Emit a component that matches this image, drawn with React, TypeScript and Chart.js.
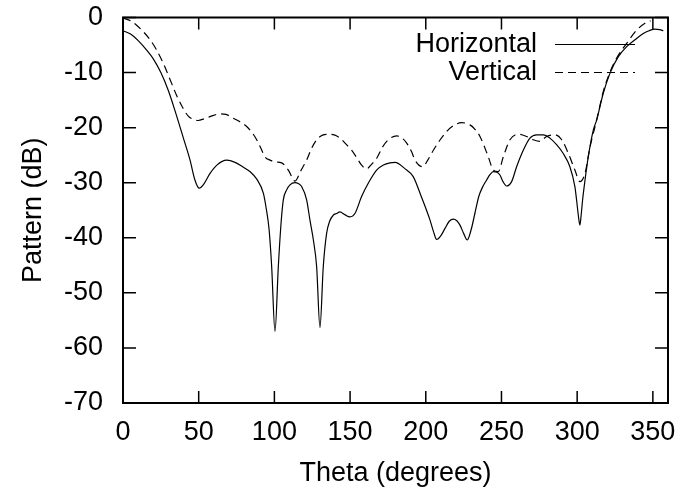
import React, { useEffect, useRef } from "react";
import { Chart, registerables } from "chart.js";

Chart.register(...registerables);

const FONT = '"Liberation Sans", Arial, Helvetica, sans-serif';
const FONT_SIZE = 27;

const seriesNames = ["Horizontal", "Vertical"];
const xAxisTitle = "Theta (degrees)";
const yAxisTitle = "Pattern (dB)";
const xTickValues = [0, 50, 100, 150, 200, 250, 300, 350];
const yTickValues = [-70, -60, -50, -40, -30, -20, -10, 0];

const hTheta = [
  0, 5, 10, 13.4, 20, 25, 30, 35, 40, 44.3, 47.5, 50.4, 53, 57.5, 62, 68.5, 74, 79.5, 84, 88.5,
  92.7, 94.5, 96.5, 98.2, 100.4, 102.6, 104.5, 105.9, 108.1, 110.3, 113.6, 116, 118, 121.3, 123.5,
  125.8, 127.9, 130.1, 132.3, 134.5, 136.5, 138.9, 141, 143.3, 146.5, 149.9, 153.2, 157.6, 162,
  167.5, 172, 176.4, 179.7, 186, 191.7, 197, 202.8, 205, 207.2, 210, 212.7, 215.5, 218.2, 220.5,
  222.6, 225, 227.4, 230, 232.5, 235, 237.5, 240.2, 242.5, 244.6, 247, 249, 251, 253.4, 256.7, 260,
  264.4, 268.8, 273.2, 277.6, 282, 286.4, 290.8, 295.2, 298.5, 299.6, 300.8, 301.8, 302.6, 303.6,
  305.2, 307.5, 310.7, 312.9, 317.2, 321.7, 327.2, 332.7, 339.3, 343.7, 347.5, 351.4, 354.5, 356.9,
];
const hDb = [
  -2.4, -3.0, -4.2, -5.2, -7.5, -10, -13.3, -17.5, -22, -25.9, -29.5, -31.0, -30.4, -28.3, -26.8,
  -25.9, -26.3, -27.2, -28.0, -29.4, -31.9, -34.5, -38.5, -45.2, -57, -45.2, -37, -33.1, -31.3,
  -30.4, -30, -30.2, -30.7, -33.1, -36.8, -40.5, -45.2, -56.3, -45.2, -39.2, -37, -35.9, -35.6,
  -35.3, -35.8, -36.2, -35.6, -32.5, -30.1, -27.7, -26.8, -26.4, -26.3, -27.4, -28.9, -32.5, -36.8,
  -38.8, -40.3, -39.6, -38.3, -37, -36.6, -36.9, -37.7, -39.2, -40.4, -38.5, -35.5, -32.5, -30.8,
  -29.5, -28.5, -28, -28.1, -28.6, -29.8, -30.6, -29.8, -27.1, -24.1, -21.9, -21.3, -21.3, -21.9,
  -23.1, -24.7, -27.1, -30.7, -33.1, -36, -37.7, -36, -33.1, -29.5, -25, -20.4, -18.6, -13.8, -10.1,
  -7.1, -5.3, -3.8, -2.9, -2.4, -2.1, -2.2, -2.4,
];

const vTheta = [
  0, 5, 9, 13.5, 17.8, 22, 26.6, 31, 35.5, 39.5, 43.1, 46.5, 49.7, 53.5, 57.5, 64.1, 68, 72.9, 77,
  81.7, 85, 88.3, 91, 93.8, 97.1, 100.5, 104.8, 109.2, 113.6, 117.5, 121.3, 124.5, 127.9, 131.5,
  135.6, 139.5, 143.3, 147, 151, 154.5, 157.6, 160.9, 164, 167.5, 171.5, 175.3, 180.8, 184, 187.4,
  190.5, 192.9, 197.9, 201.5, 205, 209.5, 213.8, 218.5, 223.7, 229.2, 232.5, 235.8, 241.3, 244.6,
  247.9, 251.2, 255.6, 261.1, 266.6, 271, 275.4, 279.8, 285.3, 289.8, 294.2, 298.5, 301.8, 305.2,
  308.5, 312.9, 317.2, 321.7, 326, 332.7, 339.3, 344.8, 348.5,
];
const vDb = [
  -0.1, -0.6, -1.4, -2.6, -4.0, -5.8, -8.3, -11.2, -14.2, -16.4, -17.9, -18.5, -18.7, -18.4, -18,
  -17.5, -17.6, -18.3, -18.9, -19.8, -20.8, -22.2, -23.7, -25.3, -25.9, -26.2, -26.4, -27.7, -29.7,
  -27.8, -25.9, -23.8, -22.2, -21.4, -21.2, -21.3, -21.9, -22.9, -24.1, -25.5, -26.8, -27.5, -26.7,
  -25.6, -23.5, -22.2, -21.5, -21.8, -22.8, -24.3, -25.9, -27.1, -25.8, -24.1, -22.2, -20.7, -19.6,
  -19.1, -19.5, -20.3, -21.6, -25.3, -27.7, -28, -25.3, -22.2, -21.2, -21.6, -22.2, -22.5, -21.6,
  -21.3, -22.2, -24.7, -27.7, -29.8, -28.3, -23.5, -18.6, -13.5, -9.9, -7.4, -4.7, -2.3, -1.05, -0.6,
];

const DASH = [8, 5];

export default function App() {
  const ref = useRef<HTMLCanvasElement>(null);

  useEffect(() => {
    if (!ref.current) return;

    const frame = {
      id: "gnuframe",
      afterDatasetsDraw(chart: any) {
        const ctx = chart.ctx as CanvasRenderingContext2D;
        const area = chart.chartArea;
        const xs = chart.scales.x;
        const ys = chart.scales.y;
        ctx.save();
        ctx.strokeStyle = "#000";
        // inward ticks, mirrored on all four sides
        ctx.lineWidth = 1.5;
        ctx.beginPath();
        for (const v of xTickValues) {
          const px = xs.getPixelForValue(v);
          ctx.moveTo(px, area.bottom);
          ctx.lineTo(px, area.bottom - 12);
          ctx.moveTo(px, area.top);
          ctx.lineTo(px, area.top + 12);
        }
        for (const v of yTickValues) {
          const py = ys.getPixelForValue(v);
          ctx.moveTo(area.left, py);
          ctx.lineTo(area.left + 13, py);
          ctx.moveTo(area.right, py);
          ctx.lineTo(area.right - 13, py);
        }
        ctx.stroke();
        // border
        ctx.lineWidth = 2;
        ctx.strokeRect(area.left, area.top, area.right - area.left, area.bottom - area.top);

        // legend
        ctx.fillStyle = "#000";
        ctx.font = `${FONT_SIZE}px ${FONT}`;
        ctx.textAlign = "right";
        ctx.textBaseline = "middle";
        const legendY = [44.5, 72.5];
        seriesNames.forEach((name, i) => {
          ctx.fillText(name, 537, legendY[i]);
          ctx.lineWidth = 1.2;
          ctx.setLineDash(i === 0 ? [] : DASH);
          ctx.beginPath();
          ctx.moveTo(555, legendY[i]);
          ctx.lineTo(635, legendY[i]);
          ctx.stroke();
        });
        ctx.setLineDash([]);

        // axis titles
        ctx.textAlign = "center";
        ctx.textBaseline = "alphabetic";
        ctx.fillText(xAxisTitle, (area.left + area.right) / 2, 481);
        ctx.translate(41, (area.top + area.bottom) / 2);
        ctx.rotate(-Math.PI / 2);
        ctx.fillText(yAxisTitle, 0, 0);
        ctx.restore();
      },
    };

    const chart = new Chart(ref.current, {
      type: "line",
      data: {
        datasets: [
          {
            label: seriesNames[0],
            data: hTheta.map((x, i) => ({ x, y: hDb[i] })),
            borderColor: "#000",
            borderWidth: 1.2,
            pointRadius: 0,
            fill: false,
            cubicInterpolationMode: "monotone",
          },
          {
            label: seriesNames[1],
            data: vTheta.map((x, i) => ({ x, y: vDb[i] })),
            borderColor: "#000",
            borderWidth: 1.2,
            borderDash: DASH,
            pointRadius: 0,
            fill: false,
            cubicInterpolationMode: "monotone",
          },
        ],
      },
      options: {
        responsive: false,
        animation: false,
        devicePixelRatio: 1,
        layout: { padding: { top: 17.5, right: 11, left: 0, bottom: 0 } },
        plugins: { legend: { display: false }, tooltip: { enabled: false } },
        scales: {
          x: {
            type: "linear",
            min: 0,
            max: 360,
            afterBuildTicks: (s: any) => {
              s.ticks = xTickValues.map((value) => ({ value }));
            },
            afterFit: (s: any) => {
              s.height = 90;
              s.paddingLeft = 0;
              s.paddingRight = 0;
            },
            grid: { display: false, drawTicks: false },
            border: { display: false },
            ticks: {
              color: "#000",
              font: { family: FONT, size: FONT_SIZE },
              padding: 13,
              maxRotation: 0,
              autoSkip: false,
              callback: (v: any) => String(v),
            },
          },
          y: {
            type: "linear",
            min: -70,
            max: 0,
            afterBuildTicks: (s: any) => {
              s.ticks = yTickValues.map((value) => ({ value }));
            },
            afterFit: (s: any) => {
              s.width = 123;
              s.paddingTop = 0;
              s.paddingBottom = 0;
            },
            grid: { display: false, drawTicks: false },
            border: { display: false },
            ticks: {
              color: "#000",
              font: { family: FONT, size: FONT_SIZE },
              padding: 20,
              autoSkip: false,
              callback: (v: any) => String(v),
            },
          },
        },
      },
      plugins: [frame],
    });

    return () => chart.destroy();
  }, []);

  return (
    <div style={{ position: "absolute", left: 0, top: 0, width: 679, height: 493 }}>
      <canvas ref={ref} width={679} height={493} style={{ display: "block" }} />
    </div>
  );
}
